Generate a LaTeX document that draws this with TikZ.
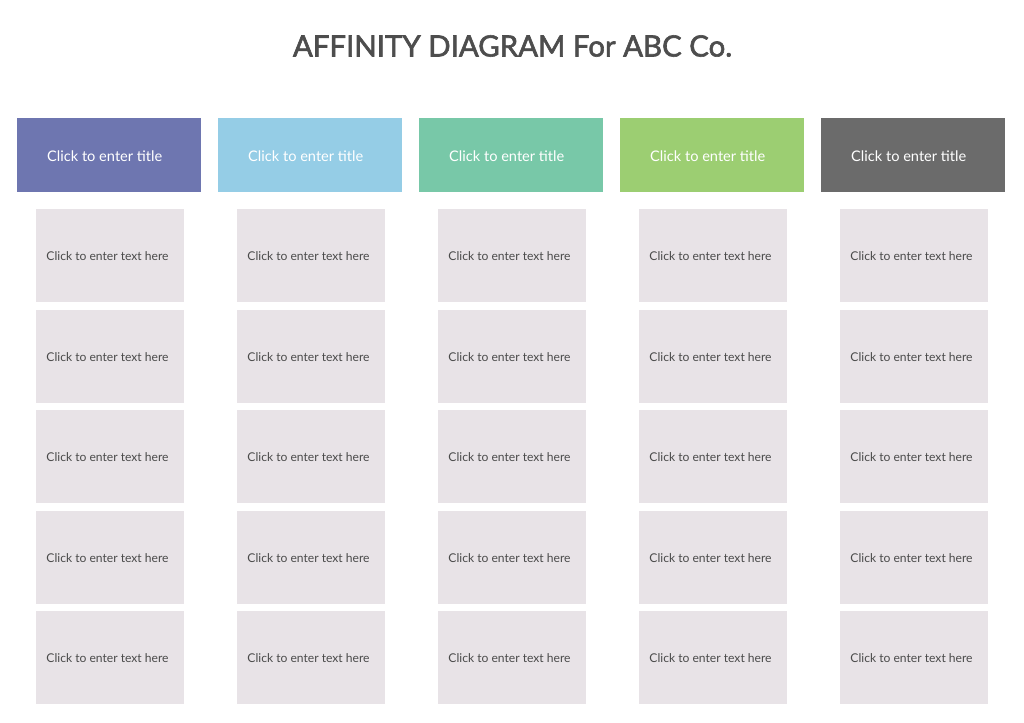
\documentclass[tikz,border=0pt]{standalone}
\usepackage{fontspec}
\setmainfont{Lato}
\newfontfamily\titlefont[FakeBold=2]{Lato}
\definecolor{titlegray}{HTML}{4D4D4D}
\definecolor{cardfill}{HTML}{E8E3E7}
\definecolor{cardtext}{HTML}{4A4A4A}
\definecolor{hA}{HTML}{6E76B0}
\definecolor{hB}{HTML}{95CDE6}
\definecolor{hC}{HTML}{78C8A8}
\definecolor{hD}{HTML}{9CCE72}
\definecolor{hE}{HTML}{6B6B6B}
\tikzset{
  headbox/.style={draw=none, minimum width=184pt, minimum height=74pt, inner sep=0pt, outer sep=0pt},
  headtext/.style={text=white, font=\fontsize{14.6}{17}\selectfont, anchor=west, inner sep=0pt},
  cardbox/.style={fill=cardfill, draw=none, minimum width=148pt, minimum height=93pt, inner sep=0pt, outer sep=0pt},
  cardlabel/.style={text=cardtext, font=\fontsize{12.1}{15}\selectfont, inner sep=0pt},
  titletext/.style={text=titlegray, font=\titlefont\fontsize{29.4}{34}\selectfont, inner sep=0pt}
}
\begin{document}
\begin{tikzpicture}[x=1pt,y=-1pt]
\useasboundingbox (0,0) rectangle (1024,722);
\fill[white] (0,0) rectangle (1024,722);
\node[titletext] (title) at (512.5,46) {AFFINITY DIAGRAM For ABC Co.};
\foreach \i/\col in {0/hA,1/hB,2/hC,3/hD,4/hE}{
  \node[headbox, fill=\col] (h\i) at (109+201*\i,155) {};
  \node[headtext] (ht\i) at ([xshift=30pt,yshift=-0.8pt]h\i.west) {Click to enter title};
  \foreach \j in {0,...,4}{
    \node[cardbox] (c\i\j) at (110+201*\i,255.5+100.6*\j) {};
    \node[cardlabel] (cl\i\j) at ([xshift=-2.5pt,yshift=-0.5pt]c\i\j.center) {Click to enter text here};
  }
}
\end{tikzpicture}
\end{document}
